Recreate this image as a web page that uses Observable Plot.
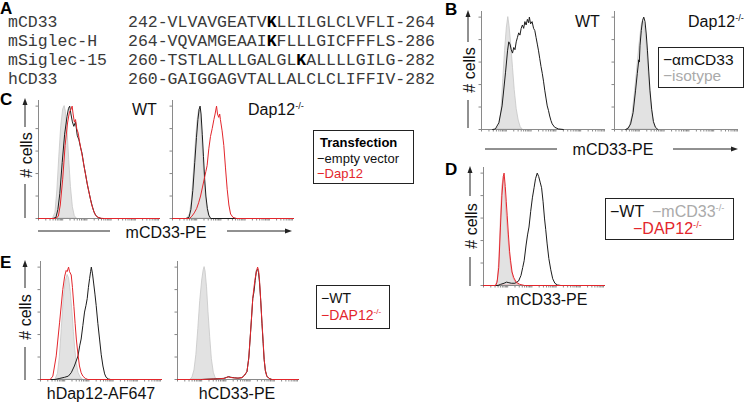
<!DOCTYPE html>
<html><head><meta charset="utf-8">
<script src="https://cdn.jsdelivr.net/npm/d3@7"></script>
<script src="https://cdn.jsdelivr.net/npm/@observablehq/plot@0.6"></script>
<style>
html,body{margin:0;padding:0;background:#fff;}
#fig{position:relative;width:750px;height:404px;overflow:hidden;font-family:"Liberation Sans",Arial,sans-serif;}
.seq{position:absolute;font-family:"Liberation Mono","Courier New",monospace;font-size:16.5px;color:#3a3a3a;white-space:pre;line-height:19px;}
.seq b{color:#000;}
</style></head><body><div id="fig"></div>
<script>
// ---------- Panel A: sequence alignment ----------
const seqNames  = ["mCD33", "mSiglec-H", "mSiglec-15", "hCD33"];
const seqStart  = ["242", "264", "260", "260"];
const seqBefore = ["VLVAVGEATV", "VQVAMGEAAI", "TSTLALLLGALGL", "GAIGGAGVTALLALCLCLIFFIV"];
const seqLys    = ["K", "K", "K", ""];
const seqAfter  = ["LLILGLCLVFLI", "FLLLGICFFFLS", "ALLLLGILG", ""];
const seqEnd    = ["264", "286", "282", "282"];

// ---------- Histogram data: [log fluorescence (decades), normalized count] ----------
// B – WT
const bWtIsotype = [[0.62,0],[0.72,0.03],[0.8,0.15],[0.88,0.45],[0.95,0.7],[1.02,0.9],[1.08,1.0],[1.13,0.92],[1.2,0.75],[1.27,0.55],[1.34,0.35],[1.42,0.18],[1.5,0.08],[1.58,0.02],[1.66,0]];
const bWtAnti = [[0.45,0],[0.56,0.005],[0.7,0.06],[0.83,0.21],[0.97,0.51],[1.05,0.7],[1.1,0.78],[1.15,0.76],[1.2,0.71],[1.25,0.68],[1.3,0.73],[1.35,0.71],[1.4,0.78],[1.45,0.82],[1.5,0.86],[1.55,0.84],[1.6,0.9],[1.65,0.93],[1.7,0.9],[1.75,0.96],[1.8,0.93],[1.85,0.98],[1.9,0.95],[1.93,1.0],[1.98,0.94],[2.04,0.96],[2.1,0.9],[2.15,0.88],[2.2,0.82],[2.25,0.76],[2.3,0.7],[2.35,0.63],[2.4,0.56],[2.45,0.5],[2.5,0.43],[2.55,0.35],[2.6,0.28],[2.65,0.21],[2.7,0.17],[2.75,0.12],[2.8,0.08],[2.85,0.05],[2.95,0.02],[3.1,0.005],[3.3,0]];
// B – Dap12-/-
const bKoIsotype = [[0.5,0],[0.62,0.03],[0.72,0.12],[0.82,0.32],[0.92,0.55],[1.02,0.78],[1.1,0.93],[1.17,0.97],[1.24,0.9],[1.31,0.72],[1.38,0.5],[1.45,0.3],[1.52,0.15],[1.6,0.05],[1.7,0]];
const bKoAnti = [[0.45,0],[0.55,0.01],[0.65,0.05],[0.75,0.15],[0.85,0.35],[0.92,0.5],[0.98,0.62],[1.0,0.6],[1.03,0.75],[1.08,0.88],[1.13,0.97],[1.18,1.0],[1.23,0.96],[1.28,0.85],[1.33,0.7],[1.38,0.52],[1.43,0.35],[1.5,0.18],[1.57,0.07],[1.65,0.02],[1.75,0]];
// C – WT
const cWtIsotype = [[0.6,0],[0.7,0.05],[0.78,0.25],[0.86,0.55],[0.94,0.82],[1.02,0.97],[1.08,1.0],[1.13,0.95],[1.2,0.78],[1.27,0.52],[1.34,0.28],[1.42,0.1],[1.5,0.02],[1.58,0]];
const cWtEmpty = [[0,0],[0.6,0],[0.72,0.01],[0.8,0.08],[0.88,0.22],[0.98,0.5],[1.08,0.75],[1.18,0.91],[1.24,0.98],[1.29,1.0],[1.34,0.93],[1.4,0.86],[1.46,0.82],[1.53,0.86],[1.6,0.74],[1.67,0.7],[1.74,0.63],[1.8,0.58],[1.87,0.48],[1.94,0.4],[2.01,0.31],[2.08,0.24],[2.15,0.17],[2.22,0.11],[2.29,0.06],[2.36,0.03],[2.45,0.01],[2.6,0],[5,0]];
const cWtDap12 = [[0,0],[0.7,0],[0.82,0.02],[0.9,0.12],[1.0,0.35],[1.1,0.65],[1.2,0.85],[1.28,0.95],[1.34,0.97],[1.39,1.0],[1.43,0.93],[1.48,0.86],[1.53,0.88],[1.58,0.8],[1.64,0.76],[1.7,0.68],[1.77,0.6],[1.84,0.52],[1.91,0.43],[1.98,0.35],[2.05,0.27],[2.12,0.2],[2.19,0.13],[2.26,0.08],[2.33,0.04],[2.42,0.015],[2.55,0.003],[2.7,0],[5,0]];
// C – Dap12-/-
const cKoIsotype = [[0.62,0],[0.72,0.04],[0.8,0.16],[0.88,0.4],[0.96,0.66],[1.03,0.86],[1.1,0.97],[1.15,0.95],[1.21,0.78],[1.27,0.55],[1.33,0.33],[1.4,0.15],[1.47,0.05],[1.55,0]];
const cKoEmpty = [[0,0],[0.55,0],[0.68,0.01],[0.76,0.08],[0.84,0.25],[0.92,0.5],[0.99,0.72],[1.05,0.88],[1.1,0.97],[1.14,1.0],[1.18,0.93],[1.23,0.75],[1.28,0.55],[1.33,0.35],[1.38,0.2],[1.44,0.09],[1.5,0.03],[1.58,0],[5,0]];
const cKoDap12 = [[0,0],[0.7,0],[0.8,0.02],[0.9,0.05],[1.0,0.09],[1.08,0.14],[1.16,0.2],[1.24,0.28],[1.32,0.36],[1.38,0.42],[1.43,0.47],[1.5,0.62],[1.57,0.73],[1.64,0.8],[1.71,0.88],[1.76,0.93],[1.82,1.0],[1.86,0.93],[1.91,0.9],[1.95,0.93],[1.98,0.88],[2.05,0.78],[2.12,0.65],[2.19,0.45],[2.26,0.26],[2.33,0.12],[2.4,0.04],[2.5,0.01],[2.65,0],[5,0]];
// D
const dMcd33Ko = [[0.52,0],[0.6,0.05],[0.66,0.25],[0.72,0.6],[0.78,0.88],[0.84,0.97],[0.88,0.9],[0.93,0.72],[0.98,0.57],[1.04,0.4],[1.1,0.25],[1.17,0.13],[1.25,0.06],[1.35,0.02],[1.5,0]];
const dWt = [[0,0],[0.6,0],[0.7,0.01],[0.85,0.02],[0.95,0.03],[1.05,0.025],[1.15,0.02],[1.3,0.02],[1.45,0.04],[1.55,0.09],[1.62,0.16],[1.68,0.22],[1.76,0.36],[1.82,0.45],[1.88,0.52],[1.95,0.66],[2.02,0.78],[2.09,0.87],[2.15,0.95],[2.22,1.0],[2.28,0.97],[2.34,0.92],[2.4,0.87],[2.46,0.75],[2.52,0.6],[2.57,0.5],[2.63,0.37],[2.7,0.24],[2.78,0.14],[2.86,0.06],[2.95,0.02],[3.05,0.005],[3.2,0],[5,0]];
const dDap12Ko = [[0,0],[0.5,0],[0.56,0.03],[0.63,0.16],[0.7,0.52],[0.76,0.8],[0.82,0.97],[0.85,1.0],[0.9,0.88],[0.94,0.75],[0.98,0.62],[1.03,0.45],[1.08,0.3],[1.12,0.22],[1.18,0.12],[1.25,0.07],[1.35,0.03],[1.5,0.01],[1.7,0],[5,0]];
// E – hDap12-AF647
const eDapIsotype = [[0.62,0],[0.72,0.05],[0.8,0.2],[0.88,0.45],[0.96,0.72],[1.04,0.87],[1.12,0.93],[1.18,0.9],[1.25,0.78],[1.32,0.6],[1.38,0.42],[1.44,0.26],[1.5,0.14],[1.57,0.06],[1.65,0.02],[1.75,0]];
const eDapWt = [[0,0],[0.6,0],[0.8,0.01],[1.0,0.02],[1.15,0.03],[1.27,0.06],[1.4,0.12],[1.55,0.21],[1.62,0.3],[1.68,0.36],[1.75,0.48],[1.82,0.6],[1.88,0.66],[1.93,0.72],[1.98,0.82],[2.03,0.9],[2.07,0.96],[2.1,1.0],[2.15,0.94],[2.2,0.85],[2.25,0.76],[2.3,0.66],[2.37,0.5],[2.44,0.36],[2.51,0.22],[2.58,0.12],[2.65,0.05],[2.71,0.02],[2.8,0.005],[2.9,0],[5,0]];
const eDapKo = [[0,0],[0.4,0],[0.51,0.03],[0.65,0.21],[0.79,0.51],[0.92,0.8],[1.0,0.92],[1.06,0.97],[1.1,0.96],[1.16,1.0],[1.2,0.96],[1.27,0.93],[1.32,0.82],[1.38,0.65],[1.43,0.5],[1.48,0.36],[1.55,0.22],[1.61,0.12],[1.68,0.06],[1.75,0.03],[1.85,0.01],[1.96,0],[5,0]];
// E – hCD33-PE
const eCd33Isotype = [[0.55,0],[0.62,0.02],[0.7,0.08],[0.78,0.22],[0.86,0.45],[0.94,0.7],[1.02,0.88],[1.08,0.97],[1.12,1.0],[1.16,0.96],[1.22,0.82],[1.28,0.6],[1.35,0.38],[1.42,0.18],[1.5,0.06],[1.58,0.01],[1.65,0]];
const eCd33Wt = [[0,0],[1.0,0],[1.5,0.005],[1.9,0.01],[2.05,0.02],[2.12,0.025],[2.2,0.02],[2.35,0.015],[2.5,0.012],[2.65,0.015],[2.78,0.04],[2.87,0.07],[2.95,0.2],[3.0,0.36],[3.06,0.55],[3.11,0.72],[3.16,0.78],[3.21,0.88],[3.26,0.97],[3.31,0.98],[3.35,0.95],[3.39,0.86],[3.44,0.7],[3.49,0.5],[3.54,0.32],[3.58,0.18],[3.63,0.08],[3.69,0.03],[3.78,0.01],[3.9,0],[5,0]];
const eCd33Ko = [[0,0],[1.0,0],[1.6,0.005],[1.95,0.01],[2.08,0.025],[2.15,0.02],[2.3,0.015],[2.5,0.012],[2.7,0.02],[2.87,0.07],[2.94,0.18],[3.0,0.36],[3.05,0.52],[3.11,0.72],[3.16,0.82],[3.21,0.9],[3.27,0.97],[3.31,1.0],[3.35,0.97],[3.39,0.88],[3.44,0.7],[3.49,0.51],[3.54,0.34],[3.58,0.18],[3.63,0.08],[3.69,0.03],[3.78,0.01],[3.9,0],[5,0]];

// ---------- Text ----------
const panelLetters = ["A", "B", "C", "D", "E"];
const yLabelText = "# cells";
const xLabelTexts = ["mCD33-PE", "mCD33-PE", "mCD33-PE", "hDap12-AF647", "hCD33-PE"];
const KO = "-/-";

const BLACK = "#1c1c1c", RED = "#e3262c", GRAYLINE = "#aaaaaa";

const fig = document.getElementById("fig");

// Panel A text
seqNames.forEach((n, i) => {
  const a = document.createElement("div");
  a.className = "seq"; a.style.left = "8px"; a.style.top = (13 + i * 19) + "px";
  a.textContent = n; fig.appendChild(a);
  const b = document.createElement("div");
  b.className = "seq"; b.style.left = "128px"; b.style.top = (13 + i * 19) + "px";
  b.innerHTML = seqStart[i] + "-" + seqBefore[i] + (seqLys[i] ? "<b>" + seqLys[i] + "</b>" : "") + seqAfter[i] + "-" + seqEnd[i];
  fig.appendChild(b);
});

// ---------- Histogram panels ----------
const yTicks = [0, 0.2, 0.4, 0.6, 0.8, 1.0];
const xTicks = [];
for (let d = 0; d < 5; d++) for (let k = 1; k < 10; k++) xTicks.push(d + Math.log10(k));

function hist({left, top, w, h, fills = [], lines = []}) {
  const mL = 6, mR = 2, mT = 2, mB = 6;
  const marks = [];
  for (const f of fills) marks.push(Plot.areaY(f.data, {x: d => d[0], y: d => d[1], fill: "#e2e2e2", stroke: f.stroke || "#c6c6c6", strokeWidth: 0.8}));
  marks.push(Plot.ruleY([0], {stroke: "#8a8a8a", strokeWidth: 1}));
  marks.push(Plot.ruleX([0], {stroke: "#8a8a8a", strokeWidth: 1}));
  for (const l of lines) marks.push(Plot.lineY(l.data, {x: d => d[0], y: d => d[1], stroke: l.stroke, strokeWidth: 1}));
  const p = Plot.plot({
    width: w + mL + mR, height: h + mT + mB,
    marginLeft: mL, marginRight: mR, marginTop: mT, marginBottom: mB,
    x: {domain: [0, 5], ticks: xTicks, tickSize: 2.5, tickFormat: () => "", label: null},
    y: {domain: [0, 1.05], ticks: yTicks, tickSize: 2.5, tickFormat: () => "", label: null},
    style: {background: "transparent", overflow: "visible", color: "#888"},
    marks
  });
  p.style.position = "absolute";
  p.style.left = (left - mL) + "px";
  p.style.top = (top - mT) + "px";
  fig.appendChild(p);
}

hist({left: 481, top: 11, w: 124, h: 118, fills: [{data: bWtIsotype}], lines: [{data: bWtAnti, stroke: BLACK}]});
hist({left: 614, top: 11, w: 124, h: 118, fills: [{data: bKoIsotype}], lines: [{data: bKoAnti, stroke: BLACK}]});
hist({left: 38, top: 100, w: 121, h: 118, fills: [{data: cWtIsotype}], lines: [{data: cWtEmpty, stroke: BLACK}, {data: cWtDap12, stroke: RED}]});
hist({left: 172, top: 100, w: 121, h: 118, fills: [{data: cKoIsotype}], lines: [{data: cKoEmpty, stroke: BLACK}, {data: cKoDap12, stroke: RED}]});
hist({left: 483, top: 167, w: 121, h: 118, fills: [{data: dMcd33Ko, stroke: "#e9a0a3"}], lines: [{data: dWt, stroke: BLACK}, {data: dDap12Ko, stroke: RED}]});
hist({left: 40, top: 261, w: 121, h: 118, fills: [{data: eDapIsotype}], lines: [{data: eDapWt, stroke: BLACK}, {data: eDapKo, stroke: RED}]});
hist({left: 177, top: 261, w: 121, h: 118, fills: [{data: eCd33Isotype}], lines: [{data: eCd33Wt, stroke: BLACK}, {data: eCd33Ko, stroke: RED}]});

// ---------- Overlay: labels, arrows, legends ----------
const NS = "http://www.w3.org/2000/svg";
const ov = d3.select(fig).append("svg").attr("xmlns", NS)
  .attr("width", 750).attr("height", 404)
  .style("position", "absolute").style("left", 0).style("top", 0)
  .style("font-family", '"Liberation Sans", Arial, sans-serif');

function txt(x, y, text, size, opts = {}) {
  const t = ov.append("text").attr("x", x).attr("y", y).attr("font-size", size)
    .attr("fill", opts.fill || "#111").attr("text-anchor", opts.anchor || "start")
    .attr("font-weight", opts.bold ? "bold" : null).text(text);
  if (opts.transform) t.attr("transform", opts.transform);
  return t;
}
function supTxt(x, y, main, sup, size, opts = {}) {
  const t = ov.append("text").attr("x", x).attr("y", y).attr("font-size", size)
    .attr("fill", opts.fill || "#111").attr("text-anchor", opts.anchor || "start");
  t.append("tspan").text(main);
  t.append("tspan").attr("font-size", size * 0.58).attr("dy", -size * 0.4).text(sup);
  return t;
}
function line(x1, y1, x2, y2) {
  ov.append("line").attr("x1", x1).attr("y1", y1).attr("x2", x2).attr("y2", y2)
    .attr("stroke", "#222").attr("stroke-width", 1);
}
function arrowUp(x, y) {
  ov.append("path").attr("d", `M${x},${y} L${x - 2.5},${y + 7} L${x + 2.5},${y + 7} Z`).attr("fill", "#222");
}
function arrowRight(x, y) {
  ov.append("path").attr("d", `M${x},${y} L${x - 7},${y - 2.5} L${x - 7},${y + 2.5} Z`).attr("fill", "#222");
}

// panel letters
[[0, 14], [445, 15], [0, 105], [445, 175], [0, 268]].forEach(([x, y], i) =>
  txt(x, y, panelLetters[i], 17, {bold: true, fill: "#000"}));

// y labels with arrows
const yLab = [
  {cx: 468, top: 10, topEnd: 42, cy: 70, base: 475, botStart: 100, bottom: 128},
  {cx: 25, top: 98, topEnd: 127, cy: 155, base: 32, botStart: 184, bottom: 218},
  {cx: 470, top: 166, topEnd: 196, cy: 226, base: 477, botStart: 257, bottom: 286},
  {cx: 25, top: 260, topEnd: 288, cy: 317, base: 31, botStart: 347, bottom: 380}
];
for (const l of yLab) {
  line(l.cx, l.top + 3, l.cx, l.topEnd);
  arrowUp(l.cx, l.top);
  line(l.cx, l.botStart, l.cx, l.bottom);
  txt(0, 0, yLabelText, 16, {anchor: "middle", transform: `translate(${l.base},${l.cy}) rotate(-90)`});
}

// x labels
txt(613, 155, xLabelTexts[0], 16, {anchor: "middle"});
line(485, 149, 557, 149); line(673, 149, 733, 149); arrowRight(738, 149);
txt(166, 238, xLabelTexts[1], 16, {anchor: "middle"});
line(38, 231, 110, 231); line(227, 231, 287, 231); arrowRight(292, 231);
txt(547, 305, xLabelTexts[2], 16, {anchor: "middle"});
txt(101, 399, xLabelTexts[3], 16, {anchor: "middle"});
txt(237, 399, xLabelTexts[4], 16, {anchor: "middle"});

// panel titles
txt(575, 27, "WT", 16);
supTxt(688, 27, "Dap12", KO, 16);
txt(132, 115, "WT", 16);
supTxt(248, 115, "Dap12", KO, 16);

// legends
function box(x, y, w, h) {
  ov.append("rect").attr("x", x).attr("y", y).attr("width", w).attr("height", h)
    .attr("fill", "none").attr("stroke", "#222").attr("stroke-width", 1);
}
box(658.5, 47.5, 85, 40);
txt(663, 64.5, "\u2212\u03b1mCD33", 15.5, {fill: "#111"});
txt(663, 81, "\u2212isotype", 15.5, {fill: GRAYLINE});

box(313.5, 130.5, 100, 53);
txt(320, 147, "Transfection", 13, {bold: true, fill: "#000"});
txt(317, 162.5, "\u2212empty vector", 13, {fill: "#111"});
txt(317, 178, "\u2212Dap12", 13, {fill: RED});

box(605.5, 198.5, 128, 41);
txt(610, 217, "\u2212WT", 16, {fill: "#111"});
supTxt(652, 217, "\u2212mCD33", KO, 16, {fill: GRAYLINE});
supTxt(633, 234, "\u2212DAP12", KO, 16, {fill: RED});

box(316.5, 285.5, 73, 43);
txt(321, 303, "\u2212WT", 14, {fill: "#111"});
supTxt(321, 320, "\u2212DAP12", KO, 14, {fill: RED});
</script></body></html>
